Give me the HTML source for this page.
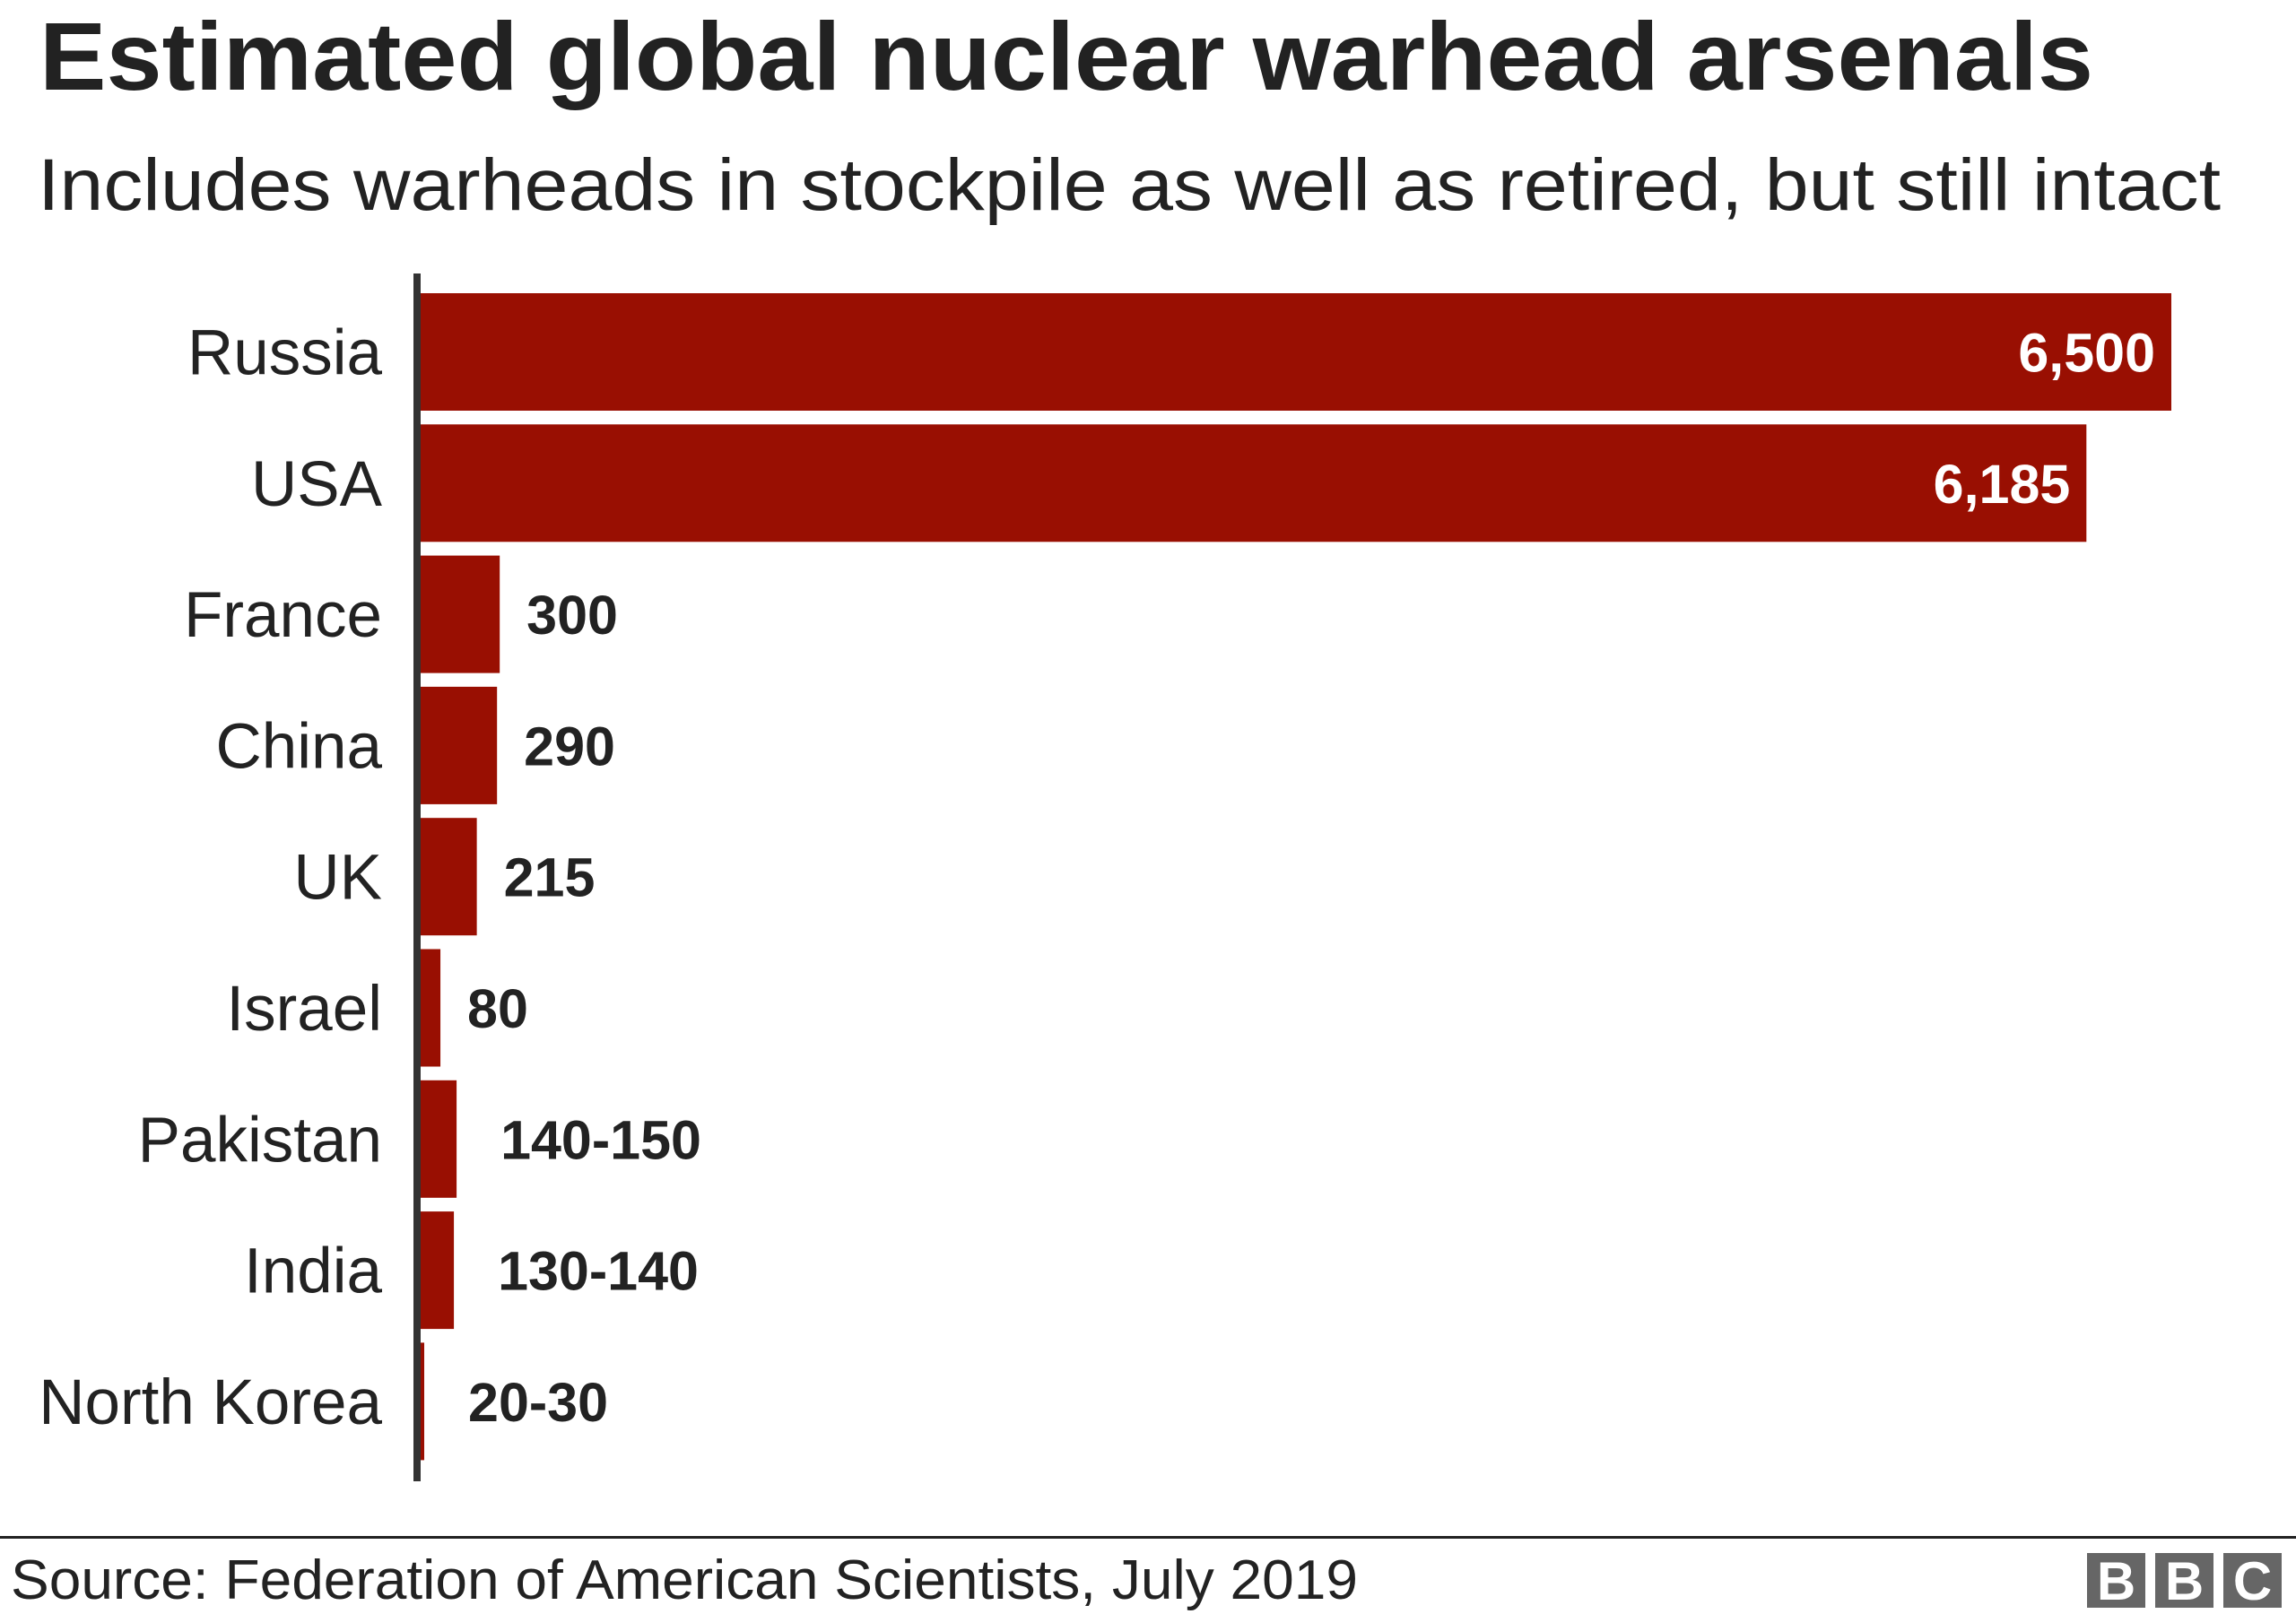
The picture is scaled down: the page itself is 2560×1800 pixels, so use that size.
<!DOCTYPE html>
<html><head><meta charset="utf-8"><style>
html,body{margin:0;padding:0;background:#fff;}
svg{display:block;}
</style></head><body>
<svg id="chart" width="2560" height="1800" viewBox="0 0 2560 1800" xmlns="http://www.w3.org/2000/svg" font-family="'Liberation Sans', Arial, sans-serif">
<rect width="2560" height="1800" fill="#fff"/>
<text x="44" y="100" font-size="108" font-weight="bold" fill="#222" textLength="2290" lengthAdjust="spacingAndGlyphs">Estimated global nuclear warhead arsenals</text>
<text x="42" y="234" font-size="82" fill="#222" textLength="2434" lengthAdjust="spacingAndGlyphs">Includes warheads in stockpile as well as retired, but still intact</text>
<g id="bars"></g>
<rect x="461" y="305" width="8" height="1347" fill="#333"/>
<rect x="0" y="1713" width="2560" height="3" fill="#222"/>
<text x="12" y="1783" font-size="62" fill="#222" textLength="1502" lengthAdjust="spacingAndGlyphs">Source: Federation of American Scientists, July 2019</text>
<g>
<rect x="2327" y="1732" width="65" height="61" fill="#666"/>
<rect x="2403" y="1732" width="65" height="61" fill="#666"/>
<rect x="2479" y="1732" width="65" height="61" fill="#666"/>
<text x="2359.5" y="1784" font-size="60" font-weight="bold" fill="#fff" text-anchor="middle">B</text>
<text x="2435.5" y="1784" font-size="60" font-weight="bold" fill="#fff" text-anchor="middle">B</text>
<text x="2511.5" y="1784" font-size="60" font-weight="bold" fill="#fff" text-anchor="middle">C</text>
</g>
</svg>
<script>
const categories = ["Russia","USA","France","China","UK","Israel","Pakistan","India","North Korea"];
const values = [6500,6185,300,290,215,80,140,130,20];
const upperValues = [6500,6185,300,290,215,80,150,140,30];
const valueLabels = ["6,500","6,185","300","290","215","80","140-150","130-140","20-30"];

const NS = "http://www.w3.org/2000/svg";
const x0 = 469, pxPerUnit = 1954/6500;
const xScale = v => x0 + v * pxPerUnit;
const rowTop = 327, rowStep = 146.3, barH = 131;
const yScale = i => rowTop + i * rowStep;
const g = document.getElementById('bars');
categories.forEach((c, i) => {
  const y = yScale(i);
  const r = document.createElementNS(NS, 'rect');
  
  
  r.setAttribute('x', x0);
  r.setAttribute('y', y);
  r.setAttribute('width', Math.max(3, xScale(values[i]) - x0 - 2));
  r.setAttribute('height', barH);
  r.setAttribute('fill', '#990f02');
  g.appendChild(r);

  const t = document.createElementNS(NS, 'text');
  
  
  t.setAttribute('x', 426);
  t.setAttribute('y', y + barH / 2 + 25);
  t.setAttribute('font-size', '71');
  t.setAttribute('fill', '#222');
  t.setAttribute('text-anchor', 'end');
  t.textContent = c;
  g.appendChild(t);

  const v = document.createElementNS(NS, 'text');
  
  
  const inside = values[i] > 3000;
  const isRange = upperValues[i] !== values[i];
  const xe = xScale(upperValues[i]);
  v.setAttribute('x', inside ? xe - 20 : xe + (isRange ? 44 : 28));
  v.setAttribute('y', y + barH / 2 + 22);
  v.setAttribute('font-size', '61');
  v.setAttribute('font-weight', 'bold');
  v.setAttribute('fill', inside ? '#fff' : '#222');
  v.setAttribute('text-anchor', inside ? 'end' : 'start');
  v.textContent = valueLabels[i];
  g.appendChild(v);
});
</script>
</body></html>
